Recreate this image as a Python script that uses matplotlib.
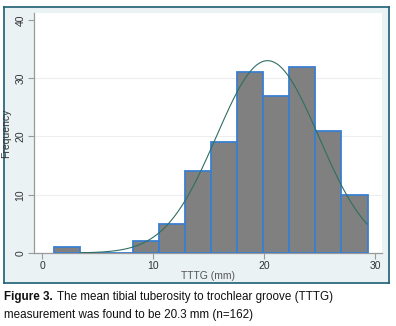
import numpy as np
import matplotlib
matplotlib.use("Agg")
import matplotlib.pyplot as plt

# Data
counts = [1, 0, 0, 2, 5, 14, 19, 31, 27, 32, 21, 10]
bin_start = 1.1
bin_width = 2.35
n_obs = 162
mean_val = 20.3
sd_val = 4.6
x_ticks = [0, 10, 20, 30]
y_ticks = [0, 10, 20, 30, 40]
x_label = "TTTG (mm)"
y_label = "Frequency"
caption_bold = "Figure 3."
caption_rest = " The mean tibial tuberosity to trochlear groove (TTTG)"
caption_line2 = "measurement was found to be 20.3 mm (n=162)"

plt.rcParams['font.family'] = ['Liberation Sans', 'DejaVu Sans']

W, H = 396, 326
fig = plt.figure(figsize=(W/100, H/100), dpi=100)
fig.patch.set_facecolor('white')

# outer graph region frame (background axes)
bg = fig.add_axes([4/W, 1-283/H, (389-4)/W, (283-7)/H], zorder=0)
bg.set_facecolor('#eaf2f3')
bg.set_xticks([])
bg.set_yticks([])
for s in bg.spines.values():
    s.set_color('#1d5f73')
    s.set_linewidth(1.2)

ax = fig.add_axes([34/W, 1-253/H, (382-34)/W, (253-13)/H], zorder=1)
ax.set_facecolor('white')

edges = bin_start + bin_width*np.arange(len(counts))
ax.bar(edges, counts, width=bin_width, align='edge', color='#808080',
       edgecolor='#3a7fd0', linewidth=1.3, zorder=3)

xs = np.linspace(3.5, 29.25, 300)
ys = n_obs*bin_width/(sd_val*np.sqrt(2*np.pi))*np.exp(-0.5*((xs-mean_val)/sd_val)**2)
ax.plot(xs, ys, color='#2f6f62', linewidth=0.8, zorder=4)

ax.set_xlim(-0.72, 30.6)
ax.set_ylim(0, 41.2)
ax.set_xticks(x_ticks)
ax.set_yticks(y_ticks)
ax.set_yticklabels([str(v) for v in y_ticks], rotation=90, va='center')
for v in [10, 20, 30]:
    ax.axhline(v, color='#eeeeee', linewidth=0.8, zorder=1)

for s in ['top', 'right']:
    ax.spines[s].set_visible(False)
for s in ['left', 'bottom']:
    ax.spines[s].set_color('#9a9a9a')
    ax.spines[s].set_linewidth(0.9)
ax.tick_params(axis='both', colors='#9a9a9a', labelcolor='#333333', labelsize=7.5,
               length=4, width=0.8, pad=2)

ax.set_xlabel(x_label, fontsize=7.5, color='#555555', labelpad=0)
ax.set_ylabel(y_label, fontsize=7.5, color='#333333', labelpad=3)

fig.text(4/W, 1-297/H, caption_bold, fontsize=8.4, fontweight='bold', va='center', ha='left', color='#111111')
fig.text(54/W, 1-297/H, caption_rest, fontsize=8.4, va='center', ha='left', color='#111111')
fig.text(4/W, 1-315/H, caption_line2, fontsize=8.4, va='center', ha='left', color='#111111')

fig.savefig('out.png', dpi=100, facecolor='white')
